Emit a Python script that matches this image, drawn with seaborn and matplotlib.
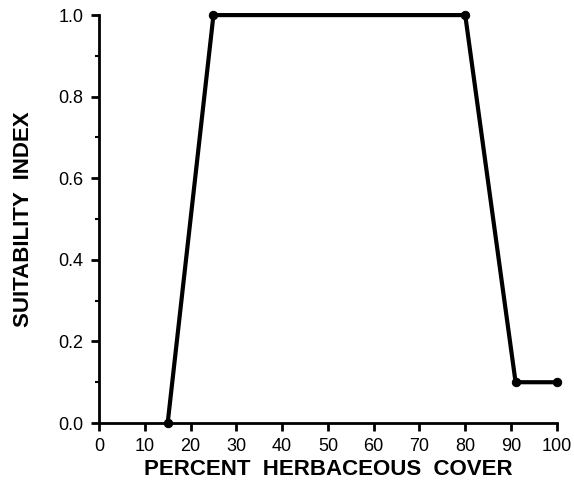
import numpy as np
import pandas as pd
import matplotlib
matplotlib.use("Agg")
import matplotlib.pyplot as plt
import seaborn as sns

# curve break points
cover = [15, 25, 80, 91, 100]
suitability = [0.0, 1.0, 1.0, 0.1, 0.1]
x_ticks = list(range(0, 101, 10))
y_ticks = [0.0, 0.2, 0.4, 0.6, 0.8, 1.0]

sns.set_style("ticks")
plt.rcParams['font.family'] = ['Liberation Sans', 'DejaVu Sans']
plt.rcParams['text.color'] = 'black'
plt.rcParams['axes.labelcolor'] = 'black'

df = pd.DataFrame({"cover": cover, "si": suitability})

fig = plt.figure(figsize=(5.74, 5.03), dpi=100)
ax = fig.add_axes([0.1725, 0.159, 0.7975, 0.811])
sns.lineplot(data=df, x="cover", y="si", ax=ax, color="black", linewidth=3,
             marker="o", markersize=6, markeredgecolor="black")
for ln in ax.lines:
    ln.set_clip_on(False)
    ln.set_zorder(5)

ax.set_xlim(0, 100)
ax.set_ylim(0, 1.0)
ax.set_xticks(x_ticks)
ax.set_yticks(y_ticks)
ax.set_yticks(np.arange(0.1, 1.0, 0.2), minor=True)
ax.set_yticklabels([f"{v:.1f}" for v in y_ticks])
sns.despine(ax=ax)
for s in ["left", "bottom"]:
    ax.spines[s].set_linewidth(2)
    ax.spines[s].set_color("black")
ax.tick_params(axis="both", which="major", length=6, width=2, labelsize=13,
               colors="black", labelcolor="black", pad=5)
ax.tick_params(axis="y", which="minor", length=3, width=1.5, colors="black")
ax.set_xlabel("PERCENT  HERBACEOUS  COVER", fontsize=16, fontweight="bold",
              labelpad=3, color="black")
ax.set_ylabel("SUITABILITY  INDEX", fontsize=16, fontweight="bold",
              labelpad=18, color="black")
ax.set_facecolor("white")

fig.savefig("out.png", dpi=100, facecolor="white")
